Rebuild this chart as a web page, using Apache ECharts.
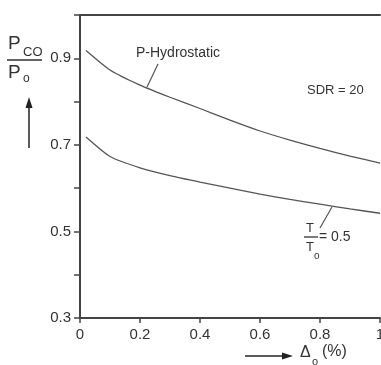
<!DOCTYPE html>
<html>
<head>
<meta charset="utf-8">
<script src="https://cdn.jsdelivr.net/npm/echarts@6/dist/echarts.min.js"></script>
<style>
  html, body { margin: 0; padding: 0; background: #fff; }
  #chart { width: 381px; height: 365px; }
</style>
</head>
<body>
<div id="chart"></div>
<script>
// Delta_o (%) on x, P_CO/P_o on y
const delta = [0.02, 0.1, 0.2, 0.3, 0.4, 0.5, 0.6, 0.7, 0.8, 0.9, 1.0]
const hydro = [0.918, 0.873, 0.838, 0.81, 0.784, 0.757, 0.732, 0.711, 0.692, 0.674, 0.658]
const ratio05 = [0.718, 0.673, 0.647, 0.629, 0.614, 0.6, 0.586, 0.574, 0.563, 0.552, 0.542]
const yLabels = [0.3, 0.5, 0.7, 0.9]

const font = 'Liberation Sans, Arial, sans-serif'
const ink = '#333'
const lineInk = '#555'

const pairs = (ys) => delta.map((x, i) => [x, ys[i]])

const chart = echarts.init(document.getElementById('chart'))

const option = {
  animation: false,
  backgroundColor: '#fff',
  grid: { left: 80, right: 1, top: 15, bottom: 47, containLabel: false, outerBoundsMode: 'none' },
  xAxis: [
    {
      type: 'value',
      min: 0,
      max: 1,
      interval: 0.2,
      axisLine: { show: true, lineStyle: { color: '#444', width: 2 } },
      axisTick: { show: true, length: 5, lineStyle: { color: '#444', width: 1.5 } },
      axisLabel: { color: ink, fontSize: 15, fontFamily: font, margin: 9 },
      splitLine: { show: false }
    },
    {
      type: 'value',
      position: 'top',
      min: 0,
      max: 1,
      axisLine: { show: true, onZero: false, lineStyle: { color: '#444', width: 2 } },
      axisTick: { show: false },
      axisLabel: { show: false },
      splitLine: { show: false }
    }
  ],
  yAxis: {
    type: 'value',
    min: 0.3,
    max: 1.0,
    interval: 0.1,
    axisLine: { show: true, lineStyle: { color: '#444', width: 2 } },
    axisTick: { show: true, length: 6, lineStyle: { color: '#444', width: 1.5 } },
    axisLabel: {
      color: ink,
      fontSize: 15,
      fontFamily: font,
      margin: 9,
      formatter: (v) => {
        const r = Math.round(v * 10) / 10
        return yLabels.includes(r) ? r.toFixed(1) : ''
      }
    },
    splitLine: { show: false }
  },
  series: [
    {
      name: 'P-Hydrostatic',
      type: 'line',
      data: pairs(hydro),
      showSymbol: false,
      smooth: 0.2,
      lineStyle: { color: lineInk, width: 1.3 }
    },
    {
      name: 'T/To = 0.5',
      type: 'line',
      data: pairs(ratio05),
      showSymbol: false,
      smooth: 0.2,
      lineStyle: { color: lineInk, width: 1.3 }
    }
  ],
  graphic: [
    // curve labels
    { type: 'text', x: 136, y: 46, style: { text: 'P-Hydrostatic', font: '14px ' + font, fill: ink } },
    { type: 'line', shape: { x1: 158, y1: 64, x2: 147, y2: 87 }, style: { stroke: lineInk, lineWidth: 1.2 } },
    { type: 'text', x: 307, y: 84, style: { text: 'SDR = 20', font: '13px ' + font, fill: ink } },
    { type: 'text', x: 306, y: 222, style: { text: 'T', font: '13px ' + font, fill: ink } },
    { type: 'line', shape: { x1: 304, y1: 237, x2: 318, y2: 237 }, style: { stroke: ink, lineWidth: 1.3 } },
    { type: 'text', x: 306, y: 241, style: { text: 'T', font: '13px ' + font, fill: ink } },
    { type: 'text', x: 314, y: 251, style: { text: 'o', font: '10px ' + font, fill: ink } },
    { type: 'text', x: 319, y: 230, style: { text: '= 0.5', font: '14px ' + font, fill: ink } },
    { type: 'line', shape: { x1: 320, y1: 228, x2: 332, y2: 207 }, style: { stroke: lineInk, lineWidth: 1.2 } },
    // y axis name: P_CO / P_o with arrow
    { type: 'text', x: 8, y: 34, style: { text: 'P', font: '19px ' + font, fill: ink } },
    { type: 'text', x: 23, y: 46, style: { text: 'CO', font: '13px ' + font, fill: ink } },
    { type: 'line', shape: { x1: 7, y1: 60, x2: 42, y2: 60 }, style: { stroke: ink, lineWidth: 1.5 } },
    { type: 'text', x: 8, y: 63, style: { text: 'P', font: '19px ' + font, fill: ink } },
    { type: 'text', x: 23, y: 73, style: { text: 'o', font: '12px ' + font, fill: ink } },
    { type: 'line', shape: { x1: 29, y1: 148, x2: 29, y2: 104 }, style: { stroke: '#222', lineWidth: 1.5 } },
    { type: 'polygon', shape: { points: [[29, 97], [25.5, 108], [32.5, 108]] }, style: { fill: '#222' } },
    // x axis name: arrow then Delta_o (%)
    { type: 'line', shape: { x1: 245, y1: 356, x2: 285, y2: 356 }, style: { stroke: '#222', lineWidth: 1.5 } },
    { type: 'polygon', shape: { points: [[293, 356], [282, 352.5], [282, 359.5]] }, style: { fill: '#222' } },
    { type: 'text', x: 300, y: 345, style: { text: 'Δ', font: '16px ' + font, fill: ink } },
    { type: 'text', x: 312, y: 356, style: { text: 'o', font: '11px ' + font, fill: ink } },
    { type: 'text', x: 322, y: 344, style: { text: '(%)', font: '16px ' + font, fill: ink } }
  ]
}

chart.setOption(option)
</script>
</body>
</html>
